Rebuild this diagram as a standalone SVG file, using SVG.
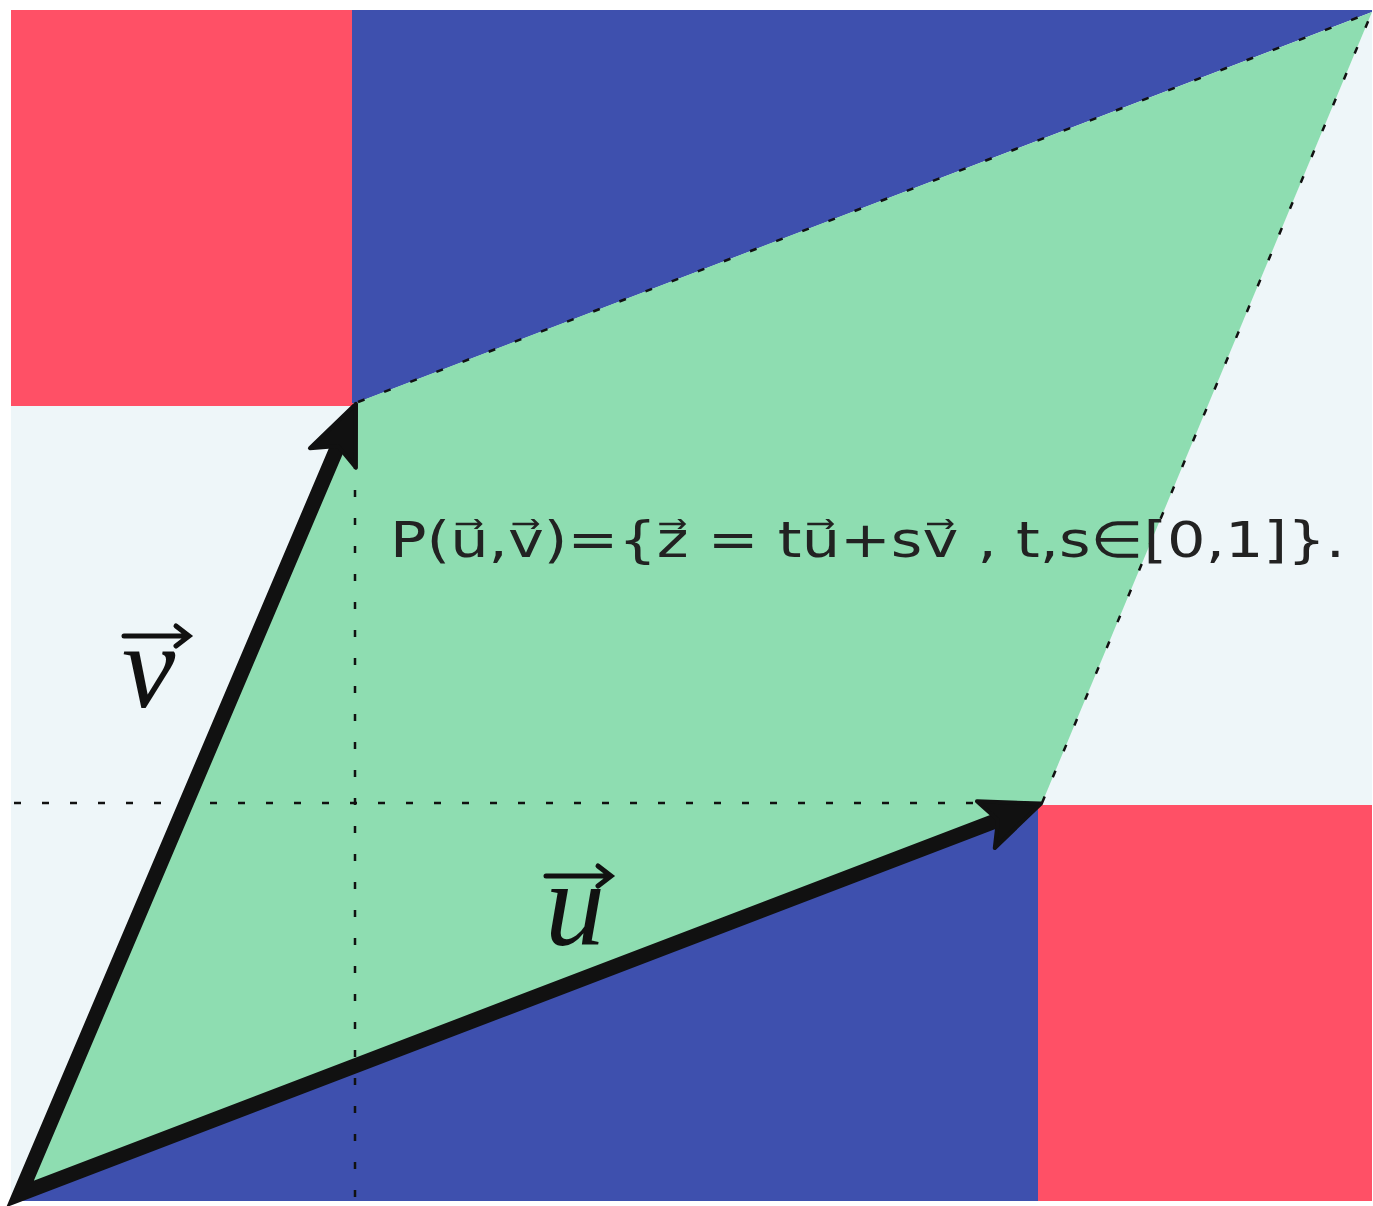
<svg xmlns="http://www.w3.org/2000/svg" width="1373" height="1206" viewBox="0 0 1373 1206">
<style>
.red{fill:#FF5066}
.blue{fill:#3E50AE}
.light{fill:#EEF6F9}
.green{fill:#8EDDB1}
.dash{stroke:#111;stroke-width:2.5;fill:none;stroke-dasharray:7 21}
.vec{stroke:#111;stroke-width:15;fill:none;stroke-linejoin:miter}
.lbl{font-family:"Liberation Serif",serif;font-style:italic;font-size:120px;fill:#111}
.hand{font-family:"DejaVu Sans",sans-serif;font-size:50px;fill:#222}
.small{stroke:#111;stroke-width:5;fill:none;stroke-linecap:round}
</style>
<defs>
<marker id="head" markerUnits="userSpaceOnUse" viewBox="-20 -32 74 64" markerWidth="74" markerHeight="64" refX="0" refY="0" orient="auto-start-reverse">
<path d="M46,0 L-13,-25 L0,0 L-13,25 Z" fill="#111" stroke="#111" stroke-width="4" stroke-linejoin="round"/>
</marker>
</defs>
<rect width="1373" height="1206" fill="#ffffff"/>
<g id="regions">
<rect class="red" x="11" y="10" width="342" height="396"/>
<polygon class="blue" points="352,10 1372,10 1372,12 356,403 352,403"/>
<polygon class="light" points="1372,12 1372,805 1040,805"/>
<rect class="red" x="1038" y="805" width="334" height="396"/>
<polygon class="blue" points="16,1201 1038,1201 1038,805"/>
<polygon class="light" points="11,406 355,406 16,1198 11,1198"/>
<polygon id="parallelogram" class="green" points="20,1194 1042,803 1372,12 358,402"/>
</g>
<g id="guides">
<line class="dash" x1="358" y1="402" x2="1372" y2="12"/>
<line class="dash" x1="1042" y1="803" x2="1372" y2="12"/>
<line class="dash" x1="14" y1="803" x2="1038" y2="803"/>
<line class="dash" x1="355" y1="406" x2="355" y2="1206"/>
</g>
<g id="connectors">
<path class="vec" d="M338,446 L20,1194 L998,820" marker-start="url(#head)" marker-end="url(#head)"/>
</g>
<g id="label-v">
<text class="lbl" x="122" y="707">v</text>
<path class="small" d="M124,636 L188,636 M176,626 L189,636 L176,646"/>
</g>
<g id="label-u">
<text class="lbl" x="545" y="945">u</text>
<path class="small" d="M546,876 L610,876 M598,866 L611,876 L598,886"/>
</g>
<g id="formula">
<text class="hand" x="390" y="557" textLength="955" lengthAdjust="spacingAndGlyphs">P(u⃗,v⃗)={z⃗ = tu⃗+sv⃗ , t,s∈[0,1]}.</text>
</g>
</svg>
